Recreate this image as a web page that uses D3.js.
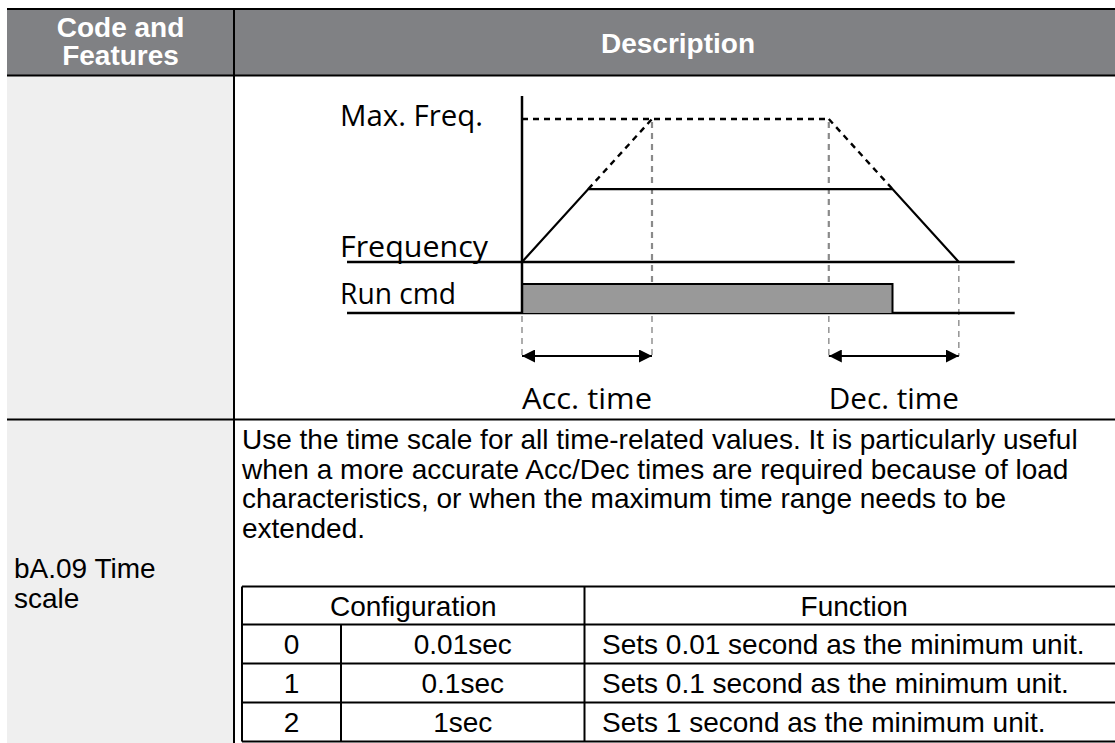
<!DOCTYPE html>
<html>
<head>
<meta charset="utf-8">
<script src="https://cdn.jsdelivr.net/npm/d3@7"></script>
<style>
  html, body { margin: 0; padding: 0; background: #ffffff; }
  svg { display: block; }
</style>
</head>
<body>
<svg id="chart" width="1115" height="743"></svg>
<script>
// ---------------- DATA ----------------
const headerLabels = ["Code and|Features", "Description"];
const rowCode = ["bA.09 Time", "scale"];
const bodyLines = [
  "Use the time scale for all time-related values. It is particularly useful",
  "when a more accurate Acc/Dec times are required because of load",
  "characteristics, or when the maximum time range needs to be",
  "extended."
];
const configHeader = ["Configuration", "Function"];
const configCodes = ["0", "1", "2"];
const configValues = ["0.01sec", "0.1sec", "1sec"];
const configFunctions = [
  "Sets 0.01 second as the minimum unit.",
  "Sets 0.1 second as the minimum unit.",
  "Sets 1 second as the minimum unit."
];

// Diagram (time in units of Acc. time, frequency as fraction of Max. Freq.)
const maxFreq = 1;
const targetFreq = 0.51;
const accTime = 1;
const decTime = 1;
const runOffTime = 2.85;
const freqProfile = [
  { t: 0, f: 0 },
  { t: targetFreq * accTime, f: targetFreq },
  { t: runOffTime, f: targetFreq },
  { t: runOffTime + targetFreq * decTime, f: 0 }
];
const accDashed = [{ t: targetFreq * accTime, f: targetFreq }, { t: accTime, f: maxFreq }];
const decDashed = [{ t: runOffTime + targetFreq * decTime - decTime, f: maxFreq }, { t: runOffTime, f: targetFreq }];
const maxFreqLine = [{ t: 0, f: maxFreq }, { t: runOffTime + targetFreq * decTime - decTime, f: maxFreq }];
const axisTimeRange = [-1.346, 3.79];
const guideTimes = [0, accTime, runOffTime + targetFreq * decTime - decTime, runOffTime + targetFreq * decTime];
const spans = [
  { label: "Acc. time", from: 0, to: accTime },
  { label: "Dec. time", from: runOffTime + targetFreq * decTime - decTime, to: runOffTime + targetFreq * decTime }
];
const signalLabels = ["Max. Freq.", "Frequency", "Run cmd"];

// ---------------- DRAW ----------------
const svg = d3.select("#chart");
const W = 1115;
const tableRight = 1122;
const colX = 234;
const headTop = 9, headBot = 75.5, rowSep = 419.5;

// backgrounds
svg.append("rect").attr("x", 7).attr("y", headTop).attr("width", W - 7).attr("height", headBot - headTop).attr("fill", "#808184");
svg.append("rect").attr("x", 7).attr("y", headBot).attr("width", colX - 7).attr("height", 743 - headBot).attr("fill", "#efefef");

// grid lines
const gridStroke = "#000";
svg.append("line").attr("x1", 7).attr("x2", W).attr("y1", headTop).attr("y2", headTop).attr("stroke", gridStroke).attr("stroke-width", 2);
svg.append("line").attr("x1", 7).attr("x2", W).attr("y1", headBot).attr("y2", headBot).attr("stroke", gridStroke).attr("stroke-width", 2);
svg.append("line").attr("x1", 7).attr("x2", W).attr("y1", rowSep).attr("y2", rowSep).attr("stroke", gridStroke).attr("stroke-width", 2);
svg.append("line").attr("x1", colX).attr("x2", colX).attr("y1", headTop).attr("y2", 743).attr("stroke", gridStroke).attr("stroke-width", 2);

// header text
const hdr = svg.append("g").attr("font-family", "'Liberation Sans', Arial, sans-serif").attr("font-weight", "bold").attr("font-size", 28).attr("fill", "#fff").attr("text-anchor", "middle");
const codeLines = headerLabels[0].split("|");
hdr.selectAll("text.code").data(codeLines).join("text").attr("class", "code")
  .attr("x", (7 + colX) / 2).attr("y", (d, i) => 37 + i * 28).text(d => d);
hdr.append("text").attr("x", (colX + tableRight) / 2).attr("y", 53).text(headerLabels[1]);

// ---------- diagram ----------
const x = d3.scaleLinear().domain([0, 1]).range([522, 652]);
const y = d3.scaleLinear().domain([0, 1]).range([262, 119]);
const yRun = d3.scaleLinear().domain([0, 1]).range([313, 284]);
const line = d3.line().x(d => x(d.t)).y(d => y(d.f));
const arrowY = 356;

const dg = svg.append("g");

// gray guides (upper part darker, lower part lighter)
dg.selectAll("line.guideU").data(guideTimes.slice(1, 3)).join("line").attr("class", "guideU")
  .attr("x1", d => x(d)).attr("x2", d => x(d))
  .attr("y1", y(maxFreq) + 3).attr("y2", yRun(1))
  .attr("stroke", "#8a8a8a").attr("stroke-width", 2.2).attr("stroke-dasharray", "6,5");
dg.selectAll("line.guideL").data(guideTimes).join("line").attr("class", "guideL")
  .attr("x1", d => x(d)).attr("x2", d => x(d))
  .attr("y1", (d, i) => i === 3 ? y(0) + 3 : yRun(0) + 3)
  .attr("y2", arrowY)
  .attr("stroke", "#999").attr("stroke-width", 1.6).attr("stroke-dasharray", "6,5");

// dashed max-freq + extensions
[maxFreqLine, accDashed, decDashed].forEach(seg => {
  dg.append("path").attr("d", line(seg)).attr("fill", "none").attr("stroke", "#000")
    .attr("stroke-width", 2.4).attr("stroke-dasharray", "6,5");
});

// frequency axis baseline
dg.append("line").attr("x1", x(axisTimeRange[0])).attr("x2", x(axisTimeRange[1]))
  .attr("y1", y(0)).attr("y2", y(0)).attr("stroke", "#000").attr("stroke-width", 2.5);
// run cmd baseline
dg.append("line").attr("x1", x(axisTimeRange[0])).attr("x2", x(axisTimeRange[1]))
  .attr("y1", yRun(0)).attr("y2", yRun(0)).attr("stroke", "#000").attr("stroke-width", 2.5);

// run cmd bar
dg.append("rect").attr("x", x(0)).attr("y", yRun(1)).attr("width", x(runOffTime) - x(0)).attr("height", yRun(0) - yRun(1))
  .attr("fill", "#999999");
dg.append("path").attr("d", d3.line()([[x(0), yRun(1)], [x(runOffTime), yRun(1)], [x(runOffTime), yRun(0)]]))
  .attr("fill", "none").attr("stroke", "#000").attr("stroke-width", 2);

// vertical axis
dg.append("line").attr("x1", x(0)).attr("x2", x(0)).attr("y1", 96).attr("y2", yRun(0))
  .attr("stroke", "#000").attr("stroke-width", 2.5);

// frequency profile
dg.append("path").attr("d", line(freqProfile)).attr("fill", "none").attr("stroke", "#000")
  .attr("stroke-width", 2.2).attr("stroke-linejoin", "miter");

// arrows
const defs = svg.append("defs");
defs.append("marker").attr("id", "ah").attr("viewBox", "0 0 10 10").attr("refX", 10).attr("refY", 5)
  .attr("markerWidth", 13).attr("markerHeight", 13).attr("markerUnits", "userSpaceOnUse").attr("orient", "auto-start-reverse")
  .append("path").attr("d", "M0,0 L10,5 L0,10 Z").attr("fill", "#000");
dg.selectAll("line.span").data(spans).join("line").attr("class", "span")
  .attr("x1", d => x(d.from)).attr("x2", d => x(d.to)).attr("y1", arrowY).attr("y2", arrowY)
  .attr("stroke", "#000").attr("stroke-width", 2.2)
  .attr("marker-start", "url(#ah)").attr("marker-end", "url(#ah)");

// diagram labels
const dfont = "'Open Sans', 'Noto Sans', sans-serif";
dg.selectAll("text.span").data(spans).join("text").attr("class", "span")
  .attr("x", d => x(d.from)).attr("y", 409)
  .attr("font-family", dfont).attr("font-size", 30).attr("fill", "#000")
  .attr("textLength", d => x(d.to) - x(d.from)).attr("lengthAdjust", "spacingAndGlyphs")
  .text(d => d.label);
const sigPos = [{ y: 126, w: 143 }, { y: 257, w: 148 }, { y: 304, w: 116 }];
dg.selectAll("text.sig").data(signalLabels).join("text").attr("class", "sig")
  .attr("x", 340).attr("y", (d, i) => sigPos[i].y)
  .attr("font-family", dfont).attr("font-size", 30).attr("fill", "#000")
  .attr("textLength", (d, i) => sigPos[i].w).attr("lengthAdjust", "spacingAndGlyphs")
  .text(d => d);

// ---------- body ----------
const bfont = "'Liberation Sans', Arial, sans-serif";
const body = svg.append("g").attr("font-family", bfont).attr("font-size", 28).attr("fill", "#000");
body.selectAll("text.line").data(bodyLines).join("text").attr("class", "line")
  .attr("x", 242).attr("y", (d, i) => 449 + i * 29.5).text(d => d);
body.selectAll("text.code").data(rowCode).join("text").attr("class", "code")
  .attr("x", 14).attr("y", (d, i) => 578 + i * 29.5).text(d => d);

// ---------- config table ----------
const tx = [242, 341, 584.5, 1120];
const rowsY = [586.5, 624.5, 663.5, 702.5, 741.5];
const tg = svg.append("g");
tg.selectAll("line.h").data(rowsY).join("line").attr("class", "h")
  .attr("x1", tx[0]).attr("x2", W).attr("y1", d => d).attr("y2", d => d)
  .attr("stroke", "#000").attr("stroke-width", 2);
tg.append("line").attr("x1", tx[0]).attr("x2", tx[0]).attr("y1", rowsY[0]).attr("y2", rowsY[4]).attr("stroke", "#000").attr("stroke-width", 2);
tg.append("line").attr("x1", tx[2]).attr("x2", tx[2]).attr("y1", rowsY[0]).attr("y2", rowsY[4]).attr("stroke", "#000").attr("stroke-width", 2);
tg.append("line").attr("x1", tx[1]).attr("x2", tx[1]).attr("y1", rowsY[1]).attr("y2", rowsY[4]).attr("stroke", "#000").attr("stroke-width", 2);

const tt = tg.append("g").attr("font-family", bfont).attr("font-size", 28).attr("fill", "#000");
tt.append("text").attr("x", (tx[0] + tx[2]) / 2).attr("y", 616).attr("text-anchor", "middle").text(configHeader[0]);
tt.append("text").attr("x", (tx[2] + 1124) / 2).attr("y", 616).attr("text-anchor", "middle").text(configHeader[1]);
const rowBase = i => (rowsY[i + 1] + rowsY[i + 2]) / 2 + 10;
tt.selectAll("text.c0").data(configCodes).join("text").attr("class", "c0")
  .attr("x", (tx[0] + tx[1]) / 2).attr("y", (d, i) => rowBase(i)).attr("text-anchor", "middle").text(d => d);
tt.selectAll("text.c1").data(configValues).join("text").attr("class", "c1")
  .attr("x", (tx[1] + tx[2]) / 2).attr("y", (d, i) => rowBase(i)).attr("text-anchor", "middle").text(d => d);
tt.selectAll("text.c2").data(configFunctions).join("text").attr("class", "c2")
  .attr("x", 602).attr("y", (d, i) => rowBase(i)).text(d => d);
</script>
</body>
</html>
